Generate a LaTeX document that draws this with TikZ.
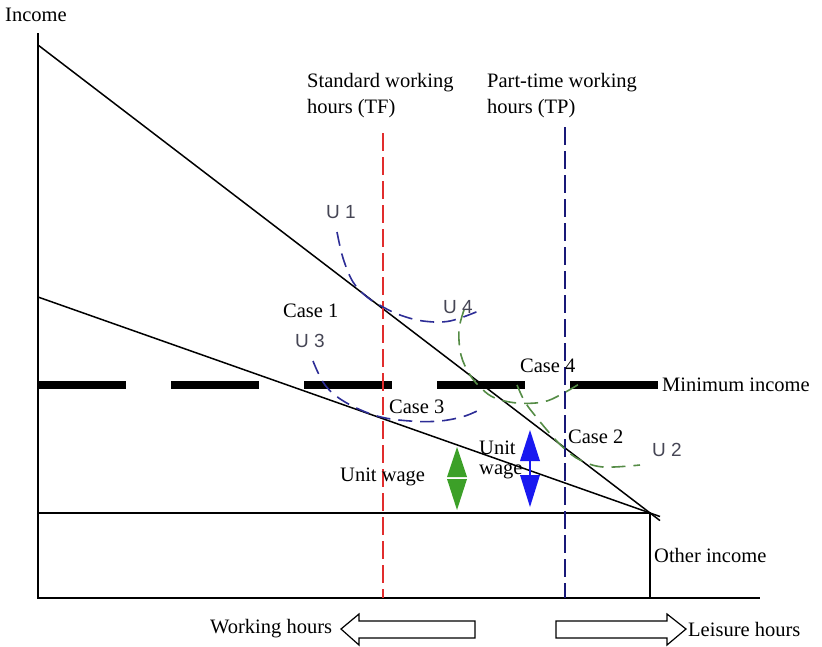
\documentclass[tikz,border=0pt]{standalone}
\usepackage{fontspec}
\setmainfont{Liberation Serif}
\newfontfamily\ulab{Liberation Sans}
\definecolor{navyc}{RGB}{45,45,150}
\definecolor{bluevert}{RGB}{25,25,120}
\definecolor{redc}{RGB}{225,45,45}
\definecolor{greenc}{RGB}{85,140,70}
\definecolor{diamondg}{RGB}{60,160,40}
\definecolor{arrowb}{RGB}{25,25,240}
\definecolor{ugray}{RGB}{70,70,85}
\begin{document}
\begin{tikzpicture}[x=1pt,y=-1pt,
  lbl/.style={inner sep=0pt, anchor=west, font=\fontsize{20.5}{26}\selectfont},
  ulbl/.style={inner sep=0pt, anchor=west, font=\ulab\fontsize{19}{22}\selectfont, text=ugray},
  axisline/.style={line width=1.9pt},
  budget/.style={line width=1.5pt},
  ublue/.style={draw=navyc, line width=1.6pt, dash pattern=on 14pt off 8pt},
  ugreen/.style={draw=greenc, line width=1.6pt, dash pattern=on 14pt off 8pt},
  hourline/.style={line width=1.1pt, dash pattern=on 18pt off 6pt},
  hollow/.style={draw, line width=1.2pt, fill=white}
]
\useasboundingbox (0,0) rectangle (822,646);
% axes
\coordinate (Ytop) at (38,33);
\coordinate (O) at (38,598);
\coordinate (Xend) at (760,598);
\draw[axisline] (Ytop) -- (O) -- (Xend);
% other income
\coordinate (OI) at (38,513);
\coordinate (K) at (650,513);
\coordinate (Kb) at (650,598);
\draw[axisline] (OI) -- (K) -- (Kb);
% budget lines
\coordinate (A) at (38,45);
\coordinate (Aend) at (660,520.6);
\coordinate (B) at (38,297);
\coordinate (Bend) at (660,516.5);
\draw[budget] (A) -- (Aend);
\draw[budget] (B) -- (Bend);
% minimum income
\coordinate (M1) at (38,385);
\coordinate (M2) at (658,385);
\draw[line width=8pt, dash pattern=on 88pt off 45pt] (M1) -- (M2);
% hour lines
\coordinate (TFt) at (383,133);
\coordinate (TFb) at (383,598);
\coordinate (TPt) at (565,127);
\coordinate (TPb) at (565,598);
\draw[hourline, draw=redc] (TFt) -- (TFb);
\draw[hourline, draw=bluevert] (TPt) -- (TPb);
% indifference curves
\draw[ublue] plot[smooth, tension=0.6] coordinates {(337,232) (343,258) (353,282) (367,297) (383,307) (400,315) (423,321) (450,321) (481,310)};
\draw[ublue] plot[smooth, tension=0.6] coordinates {(313,361) (325,385) (345,402) (377,416) (410,421) (440,421) (465,416) (483,408)};
\draw[ugreen] plot[smooth, tension=0.6] coordinates {(464,310) (459,330) (461,355) (470,375) (482,389) (495,398) (517,403) (543,402) (562,394) (584,381)};
\draw[ugreen] plot[smooth, tension=0.6] coordinates {(517,385) (525,402) (537,418) (553,437) (565,449) (580,460) (603,467) (640,465)};
% unit wage arrows
\fill[diamondg] (457,447) -- (447,477) -- (467,477) -- cycle;
\fill[diamondg] (447,479) -- (467,479) -- (457,510) -- cycle;
\fill[arrowb] (530,430) -- (520,461) -- (540,461) -- cycle;
\draw[arrowb, line width=1.5pt] (530,461) -- (530,475);
\fill[arrowb] (520,475) -- (540,475) -- (530,507) -- cycle;
% hollow arrows
\draw[hollow] (341,629) -- (359,614) -- (359,621) -- (475,621) -- (475,638) -- (359,638) -- (359,645) -- cycle;
\draw[hollow] (686,629) -- (667,614) -- (667,621) -- (556,621) -- (556,638) -- (667,638) -- (667,645) -- cycle;
% labels
\node[lbl] (income) at (5,15) {Income};
\node[lbl, align=left, anchor=north west] (tf) at (307,73) {Standard working\\hours (TF)};
\node[lbl, align=left, anchor=north west] (tp) at (487,73) {Part-time working\\hours (TP)};
\node[lbl] (minc) at (662,385) {Minimum income};
\node[lbl] (oinc) at (654,555) {Other income};
\node[lbl] (case1) at (283,311) {Case 1};
\node[lbl] (case3) at (389,407) {Case 3};
\node[lbl] (case4) at (520,366) {Case 4};
\node[lbl] (case2) at (568,437) {Case 2};
\node[lbl] (uw1) at (340,477) {Unit wage};
\node[lbl, align=left, anchor=north west, font=\fontsize{20.5}{20}\selectfont] (uw2) at (479,441) {Unit\\wage};
\node[lbl] (work) at (210,629) {Working hours};
\node[lbl] (leis) at (688,629) {Leisure hours};
\node[ulbl] (u1) at (326,212) {U 1};
\node[ulbl] (u3) at (295,341) {U 3};
\node[ulbl] (u4) at (443,307) {U 4};
\node[ulbl] (u2) at (652,450) {U 2};
\end{tikzpicture}
\end{document}
